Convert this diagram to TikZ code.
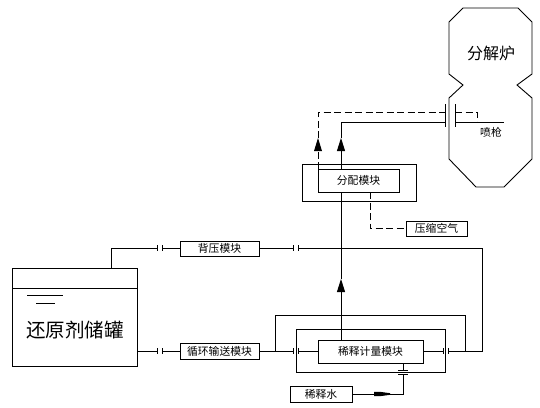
\documentclass[tikz,border=0pt]{standalone}
\usepackage{fontspec}
\setmainfont{Noto Sans CJK SC}
\usetikzlibrary{arrows.meta}

\begin{document}
\begin{tikzpicture}[
    x=1pt, y=-1pt,
    box/.style={rectangle, draw, line width=0.9pt, inner sep=0pt, align=center, font=\fontsize{10.8pt}{12pt}\selectfont},
    frame/.style={rectangle, draw, line width=0.9pt, inner sep=0pt},
    pipe/.style={line width=0.9pt},
    gas/.style={line width=0.9pt, dash pattern=on 7pt off 3.5pt},
    up/.style={-{Triangle[length=13pt, width=8pt]}},
    label/.style={inner sep=0pt, font=\fontsize{10.8pt}{12pt}\selectfont}
]
    \useasboundingbox (0,0) rectangle (540,407);

    % furnace
    \draw[pipe] (463,8) -- (518,8) -- (532,22) -- (532,74) -- (517,85) -- (532,98) -- (532,159)
        -- (504,187) -- (476,187) -- (449,159) -- (449,98) -- (463,85) -- (449,74) -- (449,22) -- cycle;
    \node[label, font=\fontsize{16pt}{18pt}\selectfont] (furnace) at (491,53) {分解炉};
    \node[label] (lance) at (491,132) {喷枪};

    % modules
    \node[frame, minimum width=125pt, minimum height=98pt] (tank) at (74.5,317) {};
    \node[label, font=\fontsize{19.5pt}{22pt}\selectfont] (tanktext) at (75,330) {还原剂储罐};
    \node[box, minimum width=79pt, minimum height=15pt] (back) at (219.5,248.5) {背压模块};
    \node[box, minimum width=79pt, minimum height=16pt] (circ) at (219.5,351) {循环输送模块};
    \node[frame, minimum width=149pt, minimum height=43pt] (meterout) at (370.5,350.5) {};
    \node[box, minimum width=105pt, minimum height=23pt] (meter) at (370.5,351.5) {稀释计量模块};
    \node[box, minimum width=62pt, minimum height=16pt] (water) at (321,394) {稀释水};
    \node[frame, minimum width=114pt, minimum height=37pt] (distout) at (359,182.5) {};
    \node[box, minimum width=81pt, minimum height=23pt] (dist) at (358.5,180.5) {分配模块};
    \node[box, minimum width=61pt, minimum height=15pt] (air) at (436.5,228.5) {压缩空气};

    % tank top and liquid level
    \coordinate (tanktop) at (12,288);
    \draw[pipe] (tanktop) -- (tank.east |- tanktop);
    \draw[pipe] (27,295) -- (63,295);
    \draw[pipe] (36,303) -- (55,303);

    % flange ends
    \coordinate (f1a) at (157,248);
    \coordinate (f1b) at (162,248);
    \coordinate (f2a) at (293,248);
    \coordinate (f2b) at (298,248);
    \coordinate (f3a) at (157,351);
    \coordinate (f3b) at (162,351);
    \coordinate (f4a) at (293,351);
    \coordinate (f4b) at (298,351);
    \coordinate (f5a) at (443,351);
    \coordinate (f5b) at (448,351);
    \foreach \f in {f1a,f1b,f2a,f2b,f3a,f3b,f4a,f4b,f5a,f5b}
        \draw[pipe] (\f) ++(0,-3) -- ++(0,6);
    \coordinate (f6a) at (403,370);
    \coordinate (f6b) at (403,374);
    \foreach \f in {f6a,f6b}
        \draw[pipe] (\f) ++(-5,0) -- ++(10,0);
    \coordinate (f7a) at (445,112);
    \coordinate (f7b) at (455,112);
    \foreach \f in {f7a,f7b}
        \draw[pipe] (\f) ++(0,-8) -- ++(0,23);

    % lines
    \coordinate (tankup) at (111,268);
    \coordinate (tankout) at (137,351);
    \coordinate (ret) at (482,248);
    \coordinate (byl) at (275,351);
    \coordinate (byr) at (465,351);
    \draw[pipe] (tankup) |- (f1a);
    \draw[pipe] (f1b) -- (back.west |- f1b);
    \draw[pipe] (back.east |- f2a) -- (f2a);
    \draw[pipe] (f2b) -- (ret) |- (f5b);
    \draw[pipe] (tankout) -- (f3a);
    \draw[pipe] (f3b) -- (circ.west |- f3b);
    \draw[pipe] (circ.east |- f4a) -- (f4a);
    \draw[pipe] (f4b) -- (meter.west |- f4b);
    \draw[pipe] (meter.east |- f5a) -- (f5a);
    \draw[pipe] (byl) -- (275,315) -- (465,315) -- (byr);

    % up to distribution
    \coordinate (mainup) at (341,340);
    \coordinate (maintip) at (341,279);
    \coordinate (mainin) at (341,192);
    \draw[pipe, up] (mainup) -- (maintip);
    \draw[pipe] (maintip) -- (mainin);

    % to furnace
    \coordinate (solidout) at (341,169);
    \coordinate (solidtip) at (341,138);
    \coordinate (gasout) at (318,169);
    \coordinate (gastip) at (318,138);
    \draw[pipe, up] (solidout) -- (solidtip);
    \draw[pipe] (solidtip) |- (445,122);
    \draw[gas] (gasout) -- (318,151);
    \fill (gastip) -- (322,151) -- (314,151) -- cycle;
    \draw[gas] (gastip) |- (f7a);
    \draw[gas] (f7b) -| (477,122);
    \draw[pipe] (455,122) -- (504,122);
    \draw[gas] (370,192) |- (air.west);

    % dilution water
    \coordinate (wateroff) at (403,394);
    \draw[pipe] (meter.south -| f6a) -- (f6a);
    \draw[pipe] (f6b) -- (wateroff) -- (water.east |- wateroff);
    \fill (374,391.8) -- (380,391.8) -- (390,393.2) -- (390,394.8) -- (380,396.2) -- (374,396.2) -- cycle;
\end{tikzpicture}
\end{document}
